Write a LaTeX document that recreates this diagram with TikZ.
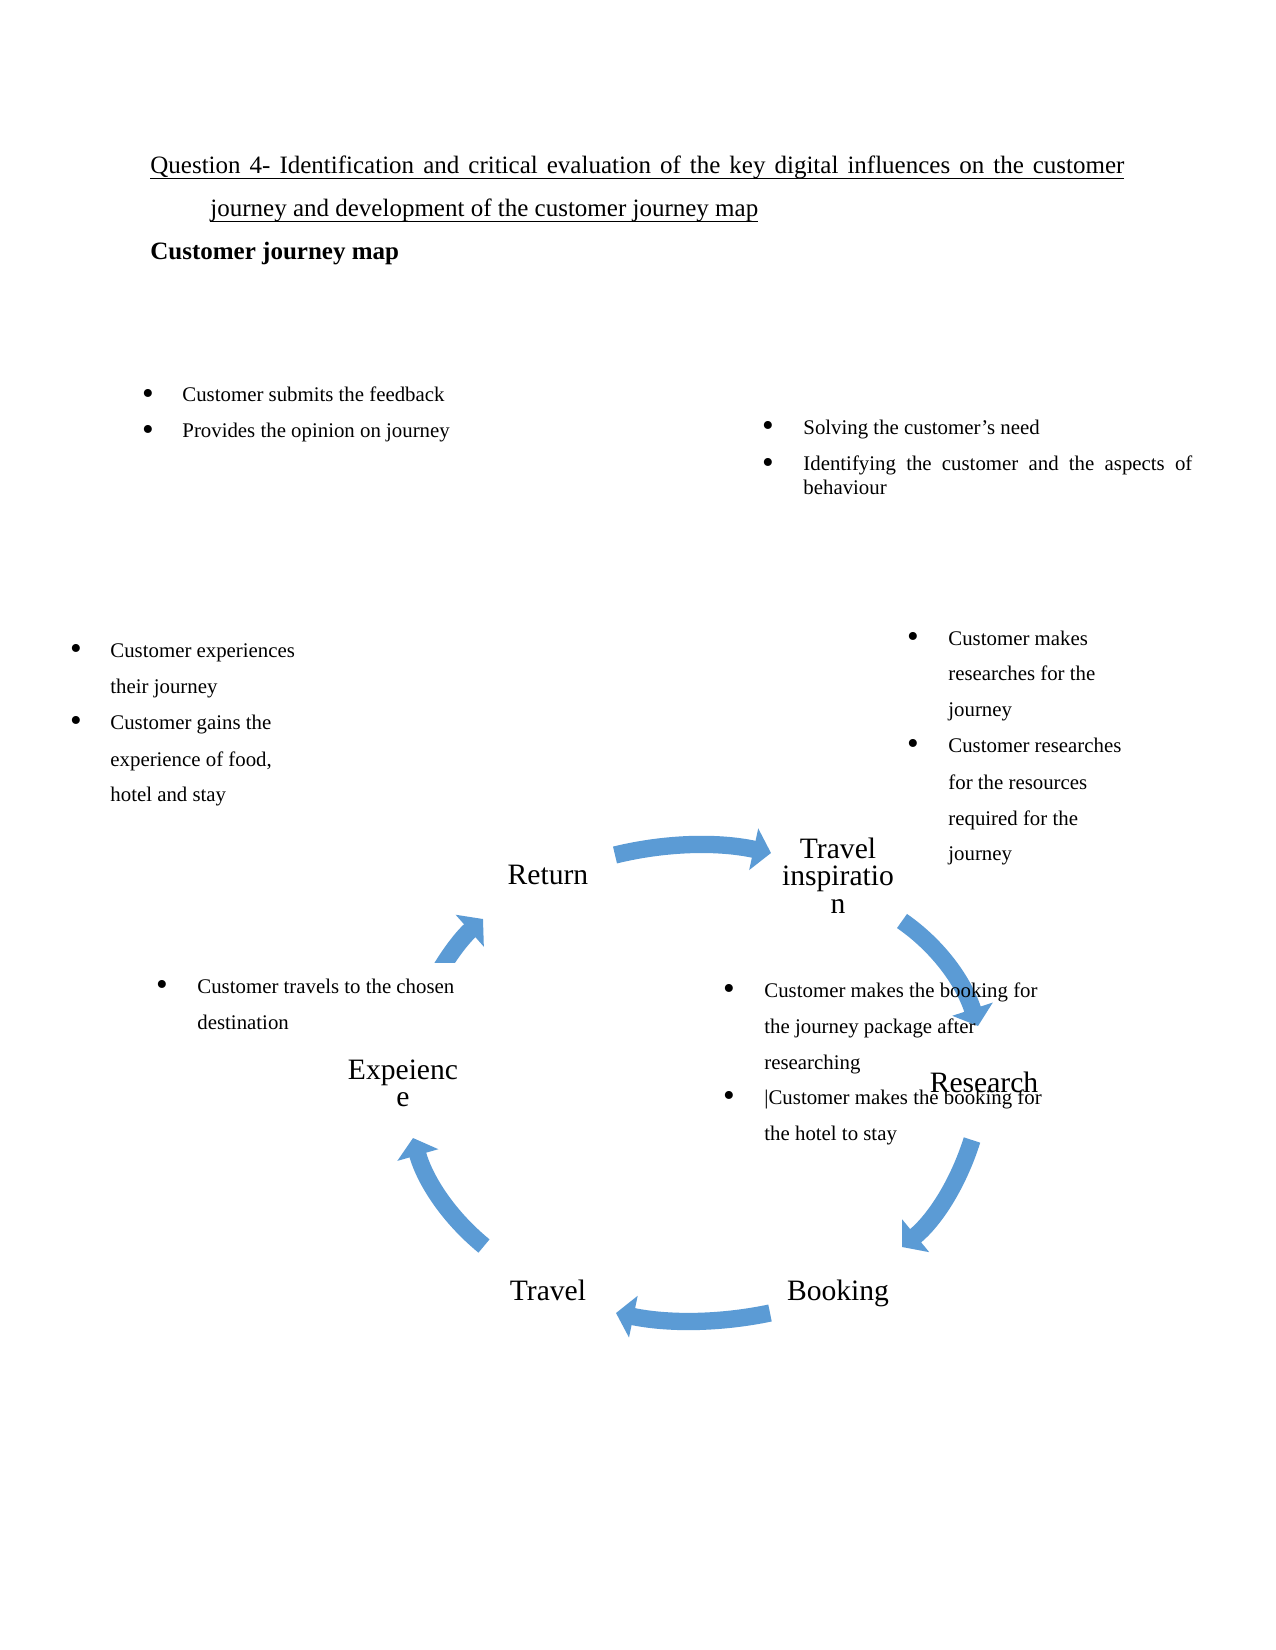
\documentclass[tikz,border=0pt]{standalone}
\usepackage{fontspec}
\setmainfont{Liberation Serif}
\usetikzlibrary{arrows.meta}
\definecolor{flowblue}{RGB}{91,155,213}
\newcommand\ulbox[1]{\setbox0\hbox{#1}\rlap{\rule[-2.6pt]{\wd0}{0.5pt}}\box0}
\newcommand\bigbul{\raisebox{-1.4pt}{\scalebox{1.6}{\textbullet}}}
\begin{document}
\begin{tikzpicture}[x=0.48pt,y=-0.48pt,
  flow/.style={draw=flowblue, line width=8.3pt, line cap=butt,
    -{Triangle[width=20pt,length=8.5pt]}},
  txt/.style={font=\fontsize{10}{12}\selectfont, anchor=base west, inner sep=0pt},
  bul/.style={font=\fontsize{10}{12}\selectfont, anchor=base, inner sep=0pt},
  stage/.style={font=\fontsize{14.2}{14}\selectfont, anchor=base, inner sep=0pt},
  ttl/.style={font=\fontsize{12}{14}\selectfont, anchor=base west, inner sep=0pt}]
\useasboundingbox[fill=white] (0,0) rectangle (1275,1650);

% ---------- title ----------
\node[ttl] (title1) at (150,174) {\ulbox{\makebox[467.5pt][s]{Question 4- Identification and critical evaluation of the key digital influences on the customer}}};
\node[ttl] (title2) at (210,217) {\ulbox{journey and development of the customer journey map}};
\node[ttl, font=\bfseries\fontsize{12}{14}\selectfont] (heading) at (150,260) {Customer journey map};

% ---------- arrow end points and control points ----------
\coordinate (a1s) at (615,855);  \coordinate (a1p) at (667,842.3);  \coordinate (a1q) at (719,841.7);  \coordinate (a1e) at (771,853);
\coordinate (a2s) at (902,921);  \coordinate (a2p) at (938,946);    \coordinate (a2q) at (963.3,981);   \coordinate (a2e) at (978,1026);
\coordinate (a3s) at (972,1140); \coordinate (a3p) at (958,1184.3); \coordinate (a3q) at (934.7,1220);  \coordinate (a3e) at (902,1247);
\coordinate (a4s) at (770,1313); \coordinate (a4p) at (718.7,1323.7);\coordinate (a4q) at (667.3,1323.7);\coordinate (a4e) at (616,1313);
\coordinate (a5s) at (484,1246); \coordinate (a5p) at (449,1217.3); \coordinate (a5q) at (425.3,1181.3);\coordinate (a5e) at (413,1138);
\coordinate (a6s) at (432,985);  \coordinate (a6p) at (444.7,959.8); \coordinate (a6q) at (461.7,937.8); \coordinate (a6e) at (483,919);

% ---------- arrows ----------
\draw[flow] (a1s) .. controls (a1p) and (a1q) .. (a1e);
\draw[flow] (a2s) .. controls (a2p) and (a2q) .. (a2e);
\draw[flow] (a3s) .. controls (a3p) and (a3q) .. (a3e);
\draw[flow] (a4s) .. controls (a4p) and (a4q) .. (a4e);
\draw[flow] (a5s) .. controls (a5p) and (a5q) .. (a5e);
\begin{scope}
  \clip (380,880) rectangle (520,962);
  \draw[flow] (a6s) .. controls (a6p) and (a6q) .. (a6e);
\end{scope}

% ---------- stage labels ----------
\node[stage] (ret) at (548,884) {Return};
\node[stage] (ti1) at (838,858) {Travel};
\node[stage] (ti2) at (838,885) {inspiratio};
\node[stage] (ti3) at (838,913) {n};
\node[stage] (res) at (984,1092) {Research};
\node[stage] (book) at (838,1300) {Booking};
\node[stage] (trav) at (548,1300) {Travel};
\node[stage] (exp1) at (403,1079) {Expeienc};
\node[stage] (exp2) at (403,1106) {e};

% ---------- top left list ----------
\node[bul] (tlb1) at (148,402) {\bigbul};
\node[txt] (tl1) at (182,402) {Customer submits the feedback};
\node[bul] (tlb2) at (148,437.5) {\bigbul};
\node[txt] (tl2) at (182,437.5) {Provides the opinion on journey};

% ---------- top right list ----------
\node[bul] (trb1) at (768,434) {\bigbul};
\node[txt] (tr1) at (803,434) {Solving the customer’s need};
\node[bul] (trb2) at (768,471) {\bigbul};
\node[txt] (tr2) at (803,471) {\makebox[186.7pt][s]{Identifying the customer and the aspects of}};
\node[txt] (tr3) at (803,494) {behaviour};

% ---------- left middle list ----------
\node[bul] (lmb1) at (76,657) {\bigbul};
\node[txt] (lm1) at (110,657) {Customer experiences};
\node[txt] (lm2) at (110,693) {their journey};
\node[bul] (lmb2) at (76,729) {\bigbul};
\node[txt] (lm3) at (110,729) {Customer gains the};
\node[txt] (lm4) at (110,766) {experience of food,};
\node[txt] (lm5) at (110,801) {hotel and stay};

% ---------- right middle list ----------
\node[bul] (rmb1) at (913,645) {\bigbul};
\node[txt] (rm1) at (948,645) {Customer makes};
\node[txt] (rm2) at (948,680.5) {researches for the};
\node[txt] (rm3) at (948,716) {journey};
\node[bul] (rmb2) at (913,752) {\bigbul};
\node[txt] (rm4) at (948,752) {Customer researches};
\node[txt] (rm5) at (948,789) {for the resources};
\node[txt] (rm6) at (948,825) {required for the};
\node[txt] (rm7) at (948,860) {journey};

% ---------- bottom left list ----------
\node[bul] (blb1) at (162,993) {\bigbul};
\node[txt] (bl1) at (197,993) {Customer travels to the chosen};
\node[txt] (bl2) at (197,1029) {destination};

% ---------- bottom right list ----------
\node[bul] (brb1) at (729,997) {\bigbul};
\node[txt] (br1) at (764,997) {Customer makes the booking for};
\node[txt] (br2) at (764,1033) {the journey package after};
\node[txt] (br3) at (764,1069) {researching};
\node[bul] (brb2) at (729,1104) {\bigbul};
\node[txt] (br4) at (764,1104) {|Customer makes the booking for};
\node[txt] (br5) at (764,1140) {the hotel to stay};
\end{tikzpicture}
\end{document}
